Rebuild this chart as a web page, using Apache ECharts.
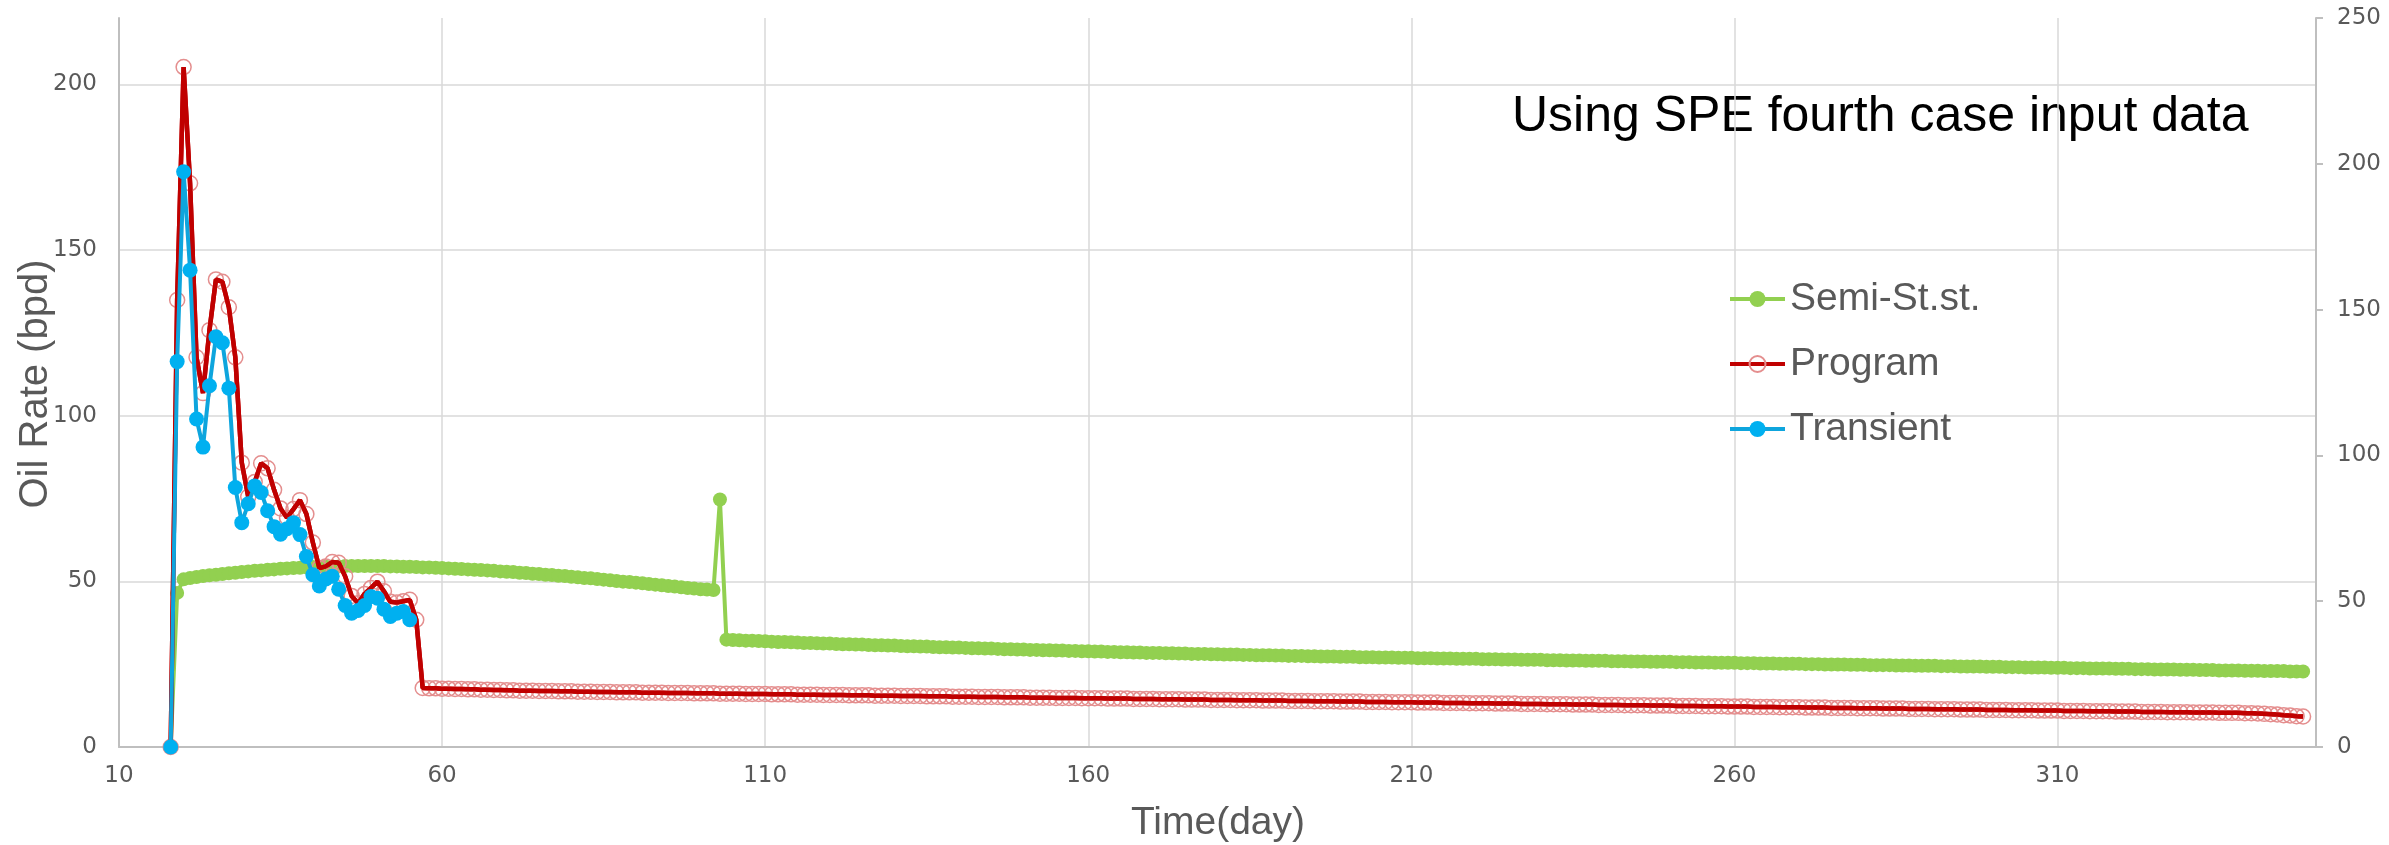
<!DOCTYPE html>
<html>
<head>
<meta charset="utf-8">
<script src="https://cdn.jsdelivr.net/npm/echarts@6/dist/echarts.min.js"></script>
<style>
  html, body { margin: 0; padding: 0; background: #ffffff; }
  #chart { width: 2389px; height: 845px; }
</style>
</head>
<body>
<div id="chart"></div>
<script>
// Oil rate per day, one value per day starting at firstDay.
const firstDay = 18;

const seriesNames = ['Semi-St.st.', 'Program', 'Transient'];

// Semi-steady-state model, days 18 .. 348
const semiSteadyRate = [
  0, 46.5, 50.6, 51.0, 51.3, 51.6, 51.8, 52.0, 52.2, 52.4,
  52.6, 52.8, 53.0, 53.2, 53.3, 53.5, 53.6, 53.8, 53.9, 54.0,
  54.1, 54.2, 54.3, 54.4, 54.4, 54.5, 54.5, 54.6, 54.6, 54.6,
  54.6, 54.6, 54.6, 54.6, 54.5, 54.5, 54.4, 54.4, 54.3, 54.2,
  54.2, 54.1, 54.0, 53.9, 53.8, 53.7, 53.6, 53.5, 53.4, 53.3,
  53.2, 53.0, 52.9, 52.8, 52.6, 52.5, 52.3, 52.2, 52.0, 51.9,
  51.7, 51.6, 51.4, 51.2, 51.0, 50.9, 50.7, 50.5, 50.3, 50.1,
  49.9, 49.8, 49.6, 49.4, 49.2, 49.0, 48.8, 48.6, 48.4, 48.2,
  48.0, 47.8, 47.6, 47.5, 47.4, 74.7, 32.4, 32.3, 32.2, 32.1,
  32.1, 32.0, 31.9, 31.8, 31.7, 31.7, 31.6, 31.5, 31.4, 31.4,
  31.3, 31.2, 31.2, 31.1, 31.0, 31.0, 30.9, 30.9, 30.8, 30.7,
  30.7, 30.6, 30.6, 30.5, 30.4, 30.4, 30.3, 30.3, 30.2, 30.1,
  30.1, 30.0, 30.0, 29.9, 29.8, 29.8, 29.7, 29.7, 29.6, 29.5,
  29.5, 29.4, 29.4, 29.3, 29.3, 29.2, 29.2, 29.1, 29.1, 29.0,
  29.0, 28.9, 28.9, 28.8, 28.8, 28.7, 28.7, 28.6, 28.6, 28.5,
  28.5, 28.4, 28.4, 28.4, 28.3, 28.3, 28.2, 28.2, 28.1, 28.1,
  28.1, 28.0, 28.0, 27.9, 27.9, 27.9, 27.8, 27.8, 27.7, 27.7,
  27.7, 27.6, 27.6, 27.5, 27.5, 27.5, 27.4, 27.4, 27.3, 27.3,
  27.3, 27.2, 27.2, 27.2, 27.1, 27.1, 27.1, 27.0, 27.0, 27.0,
  26.9, 26.9, 26.9, 26.8, 26.8, 26.8, 26.7, 26.7, 26.7, 26.6,
  26.6, 26.6, 26.6, 26.5, 26.5, 26.5, 26.4, 26.4, 26.4, 26.3,
  26.3, 26.3, 26.3, 26.2, 26.2, 26.2, 26.1, 26.1, 26.1, 26.0,
  26.0, 26.0, 26.0, 25.9, 25.9, 25.9, 25.8, 25.8, 25.8, 25.7,
  25.7, 25.7, 25.7, 25.6, 25.6, 25.6, 25.5, 25.5, 25.5, 25.4,
  25.4, 25.4, 25.4, 25.3, 25.3, 25.3, 25.2, 25.2, 25.2, 25.1,
  25.1, 25.1, 25.1, 25.0, 25.0, 25.0, 24.9, 24.9, 24.9, 24.9,
  24.8, 24.8, 24.8, 24.7, 24.7, 24.7, 24.7, 24.6, 24.6, 24.6,
  24.5, 24.5, 24.5, 24.5, 24.4, 24.4, 24.4, 24.3, 24.3, 24.3,
  24.3, 24.2, 24.2, 24.2, 24.1, 24.1, 24.1, 24.0, 24.0, 24.0,
  24.0, 23.9, 23.9, 23.9, 23.8, 23.8, 23.8, 23.7, 23.7, 23.7,
  23.7, 23.6, 23.6, 23.6, 23.5, 23.5, 23.5, 23.4, 23.4, 23.4,
  23.4, 23.3, 23.3, 23.3, 23.2, 23.2, 23.2, 23.1, 23.1, 23.1,
  23.1, 23.0, 23.0, 23.0, 22.9, 22.9, 22.9, 22.9, 22.8, 22.8,
  22.8
];

// Program output, days 18 .. 348
const programRate = [
  0, 134.9, 205.2, 170.1, 117.6, 106.8, 125.8, 141.1, 140.4, 132.7,
  117.6, 85.8, 75.5, 80.0, 85.6, 84.1, 77.6, 72.0, 69.2, 71.8,
  74.5, 70.3, 61.7, 54.0, 54.5, 55.8, 55.6, 51.5, 45.6, 43.4,
  46.2, 48.0, 49.9, 47.0, 43.8, 43.6, 44.0, 44.4, 38.4, 17.8,
  17.7, 17.7, 17.6, 17.6, 17.5, 17.5, 17.4, 17.4, 17.3, 17.3,
  17.2, 17.2, 17.1, 17.1, 17.0, 17.0, 17.0, 16.9, 16.9, 16.9,
  16.8, 16.8, 16.8, 16.7, 16.7, 16.7, 16.6, 16.6, 16.6, 16.5,
  16.5, 16.5, 16.5, 16.4, 16.4, 16.4, 16.4, 16.3, 16.3, 16.3,
  16.3, 16.2, 16.2, 16.2, 16.2, 16.1, 16.1, 16.1, 16.1, 16.0,
  16.0, 16.0, 16.0, 15.9, 15.9, 15.9, 15.9, 15.8, 15.8, 15.8,
  15.8, 15.7, 15.7, 15.7, 15.7, 15.6, 15.6, 15.6, 15.6, 15.5,
  15.5, 15.5, 15.5, 15.4, 15.4, 15.4, 15.4, 15.3, 15.3, 15.3,
  15.3, 15.2, 15.2, 15.2, 15.2, 15.1, 15.1, 15.1, 15.1, 15.0,
  15.0, 15.0, 15.0, 14.9, 14.9, 14.9, 14.9, 14.8, 14.8, 14.8,
  14.8, 14.7, 14.7, 14.7, 14.7, 14.6, 14.6, 14.6, 14.6, 14.5,
  14.5, 14.5, 14.5, 14.4, 14.4, 14.4, 14.4, 14.3, 14.3, 14.3,
  14.3, 14.2, 14.2, 14.2, 14.2, 14.1, 14.1, 14.1, 14.1, 14.0,
  14.0, 14.0, 14.0, 13.9, 13.9, 13.9, 13.9, 13.8, 13.8, 13.8,
  13.8, 13.7, 13.7, 13.7, 13.7, 13.6, 13.6, 13.6, 13.6, 13.5,
  13.5, 13.5, 13.5, 13.4, 13.4, 13.4, 13.4, 13.3, 13.3, 13.3,
  13.3, 13.2, 13.2, 13.2, 13.2, 13.1, 13.1, 13.1, 13.1, 13.0,
  13.0, 13.0, 13.0, 12.9, 12.9, 12.9, 12.9, 12.8, 12.8, 12.8,
  12.8, 12.7, 12.7, 12.7, 12.7, 12.6, 12.6, 12.6, 12.6, 12.5,
  12.5, 12.5, 12.5, 12.4, 12.4, 12.4, 12.4, 12.3, 12.3, 12.3,
  12.3, 12.2, 12.2, 12.2, 12.2, 12.1, 12.1, 12.1, 12.1, 12.0,
  12.0, 12.0, 12.0, 11.9, 11.9, 11.9, 11.9, 11.8, 11.8, 11.8,
  11.8, 11.7, 11.7, 11.7, 11.7, 11.6, 11.6, 11.6, 11.6, 11.5,
  11.5, 11.5, 11.5, 11.4, 11.4, 11.4, 11.4, 11.3, 11.3, 11.3,
  11.3, 11.2, 11.2, 11.2, 11.2, 11.1, 11.1, 11.1, 11.1, 11.0,
  11.0, 11.0, 11.0, 10.9, 10.9, 10.9, 10.9, 10.8, 10.8, 10.8,
  10.8, 10.7, 10.7, 10.7, 10.7, 10.6, 10.6, 10.6, 10.6, 10.5,
  10.5, 10.5, 10.5, 10.4, 10.4, 10.4, 10.4, 10.3, 10.3, 10.3,
  10.3, 10.2, 10.2, 10.1, 10.0, 9.9, 9.8, 9.6, 9.5, 9.3,
  9.2
];

// Transient model, days 18 .. 55
const transientRate = [
  0, 116.3, 173.6, 143.9, 99.0, 90.5, 109.0, 123.8, 122.0, 108.3,
  78.3, 67.7, 73.4, 78.8, 76.8, 71.3, 66.5, 64.2, 65.9, 67.7,
  64.1, 57.5, 52.0, 48.6, 50.7, 51.5, 47.6, 42.7, 40.4, 41.2,
  42.7, 45.4, 44.9, 41.6, 39.4, 40.4, 40.9, 38.4
];

// Axis ranges and tick steps
const timeAxisRange = { min: 10, max: 350, step: 50 };
const rateAxisRange = { min: 0, max: 220, step: 50 };
const rightAxisRange = { min: 0, max: 250, step: 50 };

const chartTitle = 'Using SPE fourth case input data';
const xAxisTitle = 'Time(day)';
const yAxisTitle = 'Oil Rate (bpd)';

const FONT = '"Liberation Sans", Arial, sans-serif';
const TICK_FONT = '"DejaVu Sans", sans-serif';
const AXIS_GRAY = '#BFBFBF';
const GRID_GRAY = '#D9D9D9';
const LABEL_GRAY = '#595959';

const toPoints = values => values.map((v, i) => [firstDay + i, v]);

const chart = echarts.init(document.getElementById('chart'), null, { renderer: 'canvas' });

const labelStyle = { color: LABEL_GRAY, fontSize: 23, fontFamily: TICK_FONT };

chart.setOption({
  animation: false,
  backgroundColor: '#ffffff',
  grid: { left: 119, right: 73, top: 18, bottom: 98, containLabel: false },
  legend: {
    data: seriesNames,
    orient: 'vertical',
    left: 1728,
    top: 279,
    padding: 0,
    itemWidth: 55,
    itemHeight: 20,
    itemGap: 25,
    selectedMode: false,
    lineStyle: { width: 4 },
    textStyle: { color: LABEL_GRAY, fontSize: 39, fontFamily: FONT, lineHeight: 40 }
  },
  xAxis: {
    type: 'value',
    min: timeAxisRange.min,
    max: timeAxisRange.max,
    interval: timeAxisRange.step,
    axisLine: { show: true, onZero: false, lineStyle: { color: AXIS_GRAY, width: 2 } },
    axisTick: { show: false },
    axisLabel: Object.assign({ margin: 18, showMaxLabel: false }, labelStyle),
    splitLine: { show: true, showMinLine: false, showMaxLine: false, lineStyle: { color: GRID_GRAY, width: 1.5 } }
  },
  yAxis: [
    {
      type: 'value',
      position: 'left',
      min: rateAxisRange.min,
      max: rateAxisRange.max,
      interval: rateAxisRange.step,
      axisLine: { show: true, onZero: false, lineStyle: { color: AXIS_GRAY, width: 2 } },
      axisTick: { show: false },
      axisLabel: Object.assign({ margin: 22, showMaxLabel: false }, labelStyle),
      splitLine: { show: true, showMinLine: false, showMaxLine: false, lineStyle: { color: GRID_GRAY, width: 1.5 } }
    },
    {
      type: 'value',
      position: 'right',
      min: rightAxisRange.min,
      max: rightAxisRange.max,
      interval: rightAxisRange.step,
      axisLine: { show: true, onZero: false, lineStyle: { color: AXIS_GRAY, width: 2 } },
      axisTick: { show: true, inside: false, length: 7, lineStyle: { color: AXIS_GRAY, width: 2 } },
      axisLabel: Object.assign({ margin: 21 }, labelStyle),
      splitLine: { show: false }
    }
  ],
  series: [
    {
      name: 'Semi-St.st.',
      type: 'line',
      yAxisIndex: 0,
      data: toPoints(semiSteadyRate),
      symbol: 'circle',
      symbolSize: 14,
      itemStyle: { color: '#92D050' },
      lineStyle: { color: '#92D050', width: 4 },
      z: 2
    },
    {
      // Program markers: open rings underneath the program line
      name: 'Program',
      type: 'line',
      yAxisIndex: 0,
      data: toPoints(programRate),
      symbol: 'circle',
      symbolSize: 15,
      itemStyle: { color: 'rgba(255,255,255,0)', borderColor: '#E48E8E', borderWidth: 1.5 },
      lineStyle: { color: '#C00000', width: 4.5 },
      z: 3
    },
    {
      // Program line drawn over its rings
      name: 'Program',
      type: 'line',
      yAxisIndex: 0,
      data: toPoints(programRate),
      symbol: 'none',
      lineStyle: { color: '#C00000', width: 4.5 },
      z: 4
    },
    {
      name: 'Transient',
      type: 'line',
      yAxisIndex: 0,
      data: toPoints(transientRate),
      symbol: 'circle',
      symbolSize: 15,
      itemStyle: { color: '#00B0F0' },
      lineStyle: { color: '#0EA5DD', width: 4 },
      z: 5
    }
  ],
  graphic: [
    {
      type: 'text',
      x: 1512,
      y: 117,
      style: {
        text: chartTitle,
        fill: '#000000',
        font: '50px ' + FONT,
        align: 'left', textAlign: 'left',
        verticalAlign: 'middle', textVerticalAlign: 'middle'
      }
    },
    {
      type: 'text',
      x: 1218,
      y: 823,
      style: {
        text: xAxisTitle,
        fill: LABEL_GRAY,
        font: '39px ' + FONT,
        align: 'center', textAlign: 'center',
        verticalAlign: 'middle', textVerticalAlign: 'middle'
      }
    },
    {
      type: 'text',
      x: 36,
      y: 384,
      rotation: Math.PI / 2,
      style: {
        text: yAxisTitle,
        fill: LABEL_GRAY,
        font: '40px ' + FONT,
        align: 'center', textAlign: 'center',
        verticalAlign: 'middle', textVerticalAlign: 'middle'
      }
    }
  ]
});
</script>
</body>
</html>
